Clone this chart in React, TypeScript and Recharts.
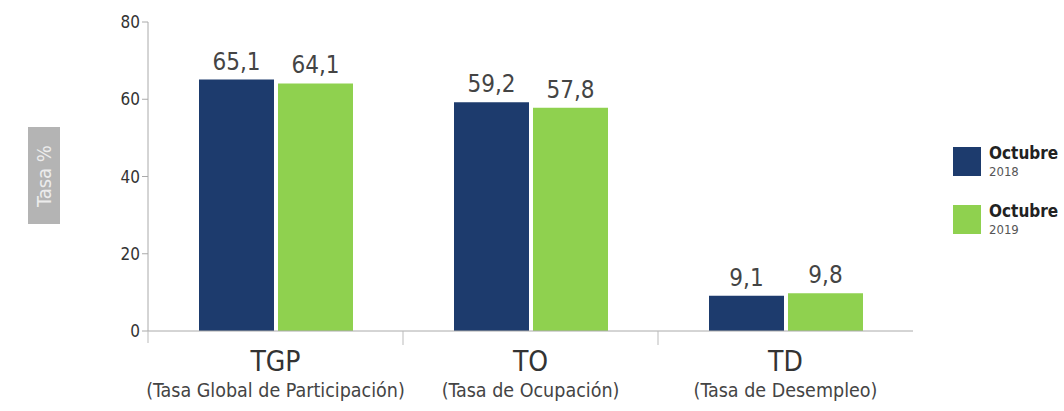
import React from 'react';
import { BarChart, Bar, XAxis, YAxis, Legend, LabelList } from 'recharts';

const categories = ['TGP', 'TO', 'TD'];
const categoryNames = ['(Tasa Global de Participación)', '(Tasa de Ocupación)', '(Tasa de Desempleo)'];
const octubre2018 = [65.1, 59.2, 9.1];
const octubre2019 = [64.1, 57.8, 9.8];
const yTicks = [0, 20, 40, 60, 80];

const series = [
  { key: 'oct2018', title: 'Octubre', year: '2018', color: '#1d3b6d' },
  { key: 'oct2019', title: 'Octubre', year: '2019', color: '#8fd14f' },
];

const data = categories.map((c, i) => ({
  name: c,
  full: categoryNames[i],
  oct2018: octubre2018[i],
  oct2019: octubre2019[i],
}));

const FONT = '"Liberation Sans Narrow", "DejaVu Sans Condensed", "Open Sans", sans-serif';
const fmt = (v: any) => String(v).replace('.', ',');

const CategoryTick = (props: any) => {
  const { x, y, payload, index } = props;
  const half = payload && payload.offset ? payload.offset : 127.5;
  return (
    <g>
      {index === 0 && (
        <line x1={x - half} y1={y - 8} x2={x - half} y2={y + 4} stroke="#bbb" />
      )}
      {index < categories.length - 1 && (
        <line x1={x + half} y1={y - 8} x2={x + half} y2={y + 6} stroke="#bbb" />
      )}
      <text x={x} y={y + 32} textAnchor="middle" fontFamily={FONT} fontSize={28} fill="#333">
        {payload.value}
      </text>
      <text x={x} y={y + 58} textAnchor="middle" fontFamily={FONT} fontSize={19.5} fill="#444">
        {categoryNames[index]}
      </text>
    </g>
  );
};

// gray box with the rotated axis title, centred on the 40 tick
const YLabel = () => {
  const cx = 44;
  const cy = 176;
  return (
    <g>
      <rect x={28} y={127} width={32} height={97} fill="#b4b4b4" />
      <text
        x={cx}
        y={cy}
        transform={`rotate(-90 ${cx} ${cy})`}
        textAnchor="middle"
        dominantBaseline="central"
        fontFamily={FONT}
        fontSize={20}
        fill="#ececec"
      >
        Tasa %
      </text>
    </g>
  );
};

const LegendBox = () => (
  <div style={{ fontFamily: FONT }}>
    {series.map((s) => (
      <div key={s.key} style={{ display: 'flex', alignItems: 'center', height: 35, marginBottom: 23 }}>
        <div style={{ width: 28, height: 29, background: s.color, marginRight: 8 }} />
        <div style={{ lineHeight: 1 }}>
          <div style={{ fontSize: 17, fontWeight: 600, color: '#222' }}>{s.title}</div>
          <div style={{ fontSize: 13, color: '#555', marginTop: 3 }}>{s.year}</div>
        </div>
      </div>
    ))}
  </div>
);

export default function App() {
  return (
    <div style={{ position: 'absolute', left: 0, top: 0, width: 1064, height: 411, background: '#fff', overflow: 'hidden' }}>
      <BarChart
        width={1064}
        height={411}
        data={data}
        margin={{ top: 22, right: 151, bottom: 0, left: 0 }}
        barCategoryGap="20%"
        barGap={4}
      >
        <XAxis
          dataKey="name"
          height={80}
          axisLine={{ stroke: '#aaa' }}
          tickLine={false}
          tick={<CategoryTick />}
          interval={0}
        />
        <YAxis
          width={148}
          domain={[0, 80]}
          ticks={yTicks}
          axisLine={{ stroke: '#aaa' }}
          tickLine={{ stroke: '#aaa' }}
          tickSize={6}
          tick={{ fontFamily: FONT, fontSize: 17, fill: '#333' }}
          label={<YLabel />}
        />
        <Legend
          layout="vertical"
          align="center"
          verticalAlign="middle"
          content={<LegendBox />}
          wrapperStyle={{ left: 953, top: 144, width: 111 }}
        />
        {series.map((s) => (
          <Bar key={s.key} dataKey={s.key} fill={s.color} isAnimationActive={false}>
            <LabelList
              dataKey={s.key}
              position="top"
              offset={10}
              formatter={fmt}
              style={{ fontFamily: FONT, fontSize: 24, fill: '#444' }}
            />
          </Bar>
        ))}
      </BarChart>
    </div>
  );
}
